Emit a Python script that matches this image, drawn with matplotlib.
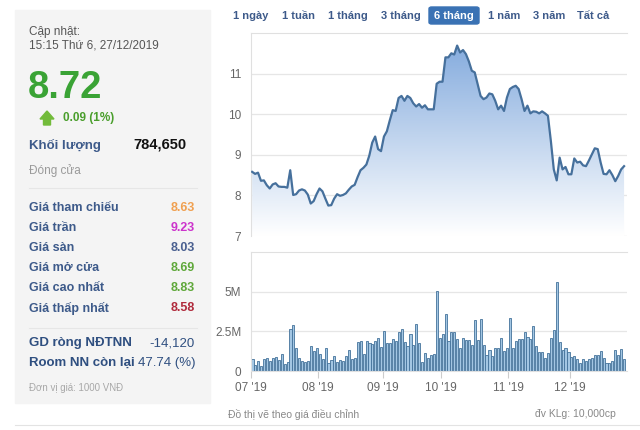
import numpy as np
import matplotlib
matplotlib.use("Agg")
import matplotlib.pyplot as plt
from matplotlib.colors import LinearSegmentedColormap
from matplotlib.patches import Rectangle, FancyBboxPatch, Polygon

plt.rcParams['font.family'] = ['Liberation Sans', 'DejaVu Sans']

W, H = 640, 430

# daily close (1000 VND), trading days from 07/2019 to 27/12/2019
price = [8.58, 8.53, 8.56, 8.36, 8.37, 8.25, 8.17, 8.27, 8.30, 8.22, 8.21, 8.21, 8.19,
         8.62, 8.01, 8.03, 8.12, 8.15, 8.12, 8.02, 7.80, 7.86, 8.03, 8.17, 8.10, 7.92,
         7.75, 7.76, 7.92, 8.03, 7.99, 8.01, 8.05, 8.14, 8.22, 8.26, 8.45, 8.62, 8.68,
         8.76, 8.98, 9.30, 9.45, 9.14, 9.09, 9.45, 9.58, 9.85, 10.10, 10.08, 10.40, 10.45,
         10.33, 10.45, 10.40, 10.27, 10.19, 10.25, 10.16, 10.22, 10.12, 10.12, 10.12, 10.75, 10.80,
         10.80, 11.40, 11.40, 11.50, 11.47, 11.69, 11.52, 11.58, 11.48, 11.30, 11.07, 11.03, 10.74,
         10.45, 10.37, 10.41, 10.51, 10.49, 10.33, 10.12, 10.21, 10.08, 10.41, 10.62, 10.67, 10.70,
         10.62, 10.37, 10.08, 10.21, 10.02, 10.07, 10.06, 10.02, 10.07, 10.02, 9.96, 9.34, 8.64,
         8.37, 8.93, 8.64, 8.70, 8.52, 8.52, 8.91, 8.81, 8.83, 8.74, 8.72, 8.86, 9.01,
         9.16, 9.14, 8.81, 8.53, 8.52, 8.62, 8.50, 8.35, 8.48, 8.64, 8.72]

# volume, millions
volume = [0.73, 0.38, 0.63, 0.31, 0.75, 0.81, 0.65, 0.79, 0.90, 0.69,
          1.06, 0.44, 0.58, 2.67, 2.88, 1.44, 0.85, 0.60, 0.58, 0.63,
          1.56, 1.27, 1.48, 1.06, 0.73, 1.42, 0.48, 0.69, 0.96, 0.58,
          0.69, 0.63, 0.94, 1.35, 0.73, 0.85, 1.83, 1.88, 1.06, 1.88,
          1.77, 1.73, 1.88, 2.10, 1.52, 2.52, 1.77, 1.77, 2.04, 1.88,
          2.46, 2.63, 1.83, 1.56, 2.35, 1.63, 2.98, 1.77, 0.58, 1.15,
          0.85, 1.00, 1.04, 5.02,
          2.10, 2.35, 3.60, 1.88, 2.46, 2.46, 2.04, 1.42, 2.10, 1.94,
          1.94, 1.63, 3.19, 1.94, 3.29, 1.63, 1.00, 1.31, 0.96, 1.46,
          1.42, 2.10, 1.27, 1.42, 3.35, 1.42, 1.88, 2.00, 2.00, 2.46,
          2.15, 2.04, 2.81, 1.56, 1.21, 1.21, 0.85, 1.15, 2.10, 2.56,
          5.63, 1.81, 1.31, 1.42, 1.21, 0.90, 0.96, 0.73, 0.48, 0.73,
          0.65, 0.73, 0.83, 1.00, 1.00, 1.25, 0.79, 0.48, 0.48, 0.63,
          1.31, 1.00, 1.38, 0.73]

month_start = [0, 23, 45, 65, 88, 109]
month_labels = ["07 '19", "08 '19", "09 '19", "10 '19", "11 '19", "12 '19"]

price_ticks = [7, 8, 9, 10, 11]
vol_ticks = [0, 2.5, 5]
vol_tick_labels = ['0', '2.5M', '5M']

ranges = ['1 ngày', '1 tuần', '1 tháng', '3 tháng', '6 tháng', '1 năm', '3 năm', 'Tất cả']
range_x = [251, 298, 348, 401, 454, 504, 549, 593]
selected = '6 tháng'

info_labels = ['Giá tham chiếu', 'Giá trần', 'Giá sàn', 'Giá mở cửa', 'Giá cao nhất', 'Giá thấp nhất']
info_values = ['8.63', '9.23', '8.03', '8.69', '8.83', '8.58']
info_colors = ['#f0a050', '#cc33cc', '#4a6090', '#5fa83a', '#5fa83a', '#b02a3c']

LABEL = '#3d5a8a'
GRID = '#e6e6e6'


def fx(x):
    return x / W


def fy(y):
    return 1 - y / H


def put(fig, x, y, s, **kw):
    kw.setdefault('va', 'center')
    fig.text(fx(x), fy(y), s, **kw)


def draw_left_panel(fig):
    fig.patches.append(Rectangle((fx(15), fy(403)), 195 / W, 393 / H,
                                 transform=fig.transFigure, color='#f4f4f4', zorder=0))
    put(fig, 29, 32, 'Cập nhật:', color='#555555', fontsize=8.5)
    put(fig, 29, 45, '15:15 Thứ 6, 27/12/2019', color='#555555', fontsize=8.5)
    put(fig, 28, 88, '8.72', color='#3aa335', fontsize=27.5, fontweight='bold')

    # green up arrow
    arrow = [(40, 119), (47, 111), (54, 119), (50.5, 119), (50.5, 125), (43.5, 125), (43.5, 119)]
    fig.patches.append(Polygon([(fx(a), fy(b)) for a, b in arrow], closed=True,
                               transform=fig.transFigure, color='#72bb3a', zorder=2))
    put(fig, 63, 118, '0.09 (1%)', color='#4a9e2c', fontsize=8.5, fontweight='bold')

    put(fig, 29, 145, 'Khối lượng', color=LABEL, fontsize=9.5, fontweight='bold')
    put(fig, 186, 145, '784,650', color='#111111', fontsize=10.5, fontweight='bold', ha='right')
    put(fig, 29, 171, 'Đóng cửa', color='#9a9a9a', fontsize=8.5)

    for y in (188, 328):
        fig.lines.append(plt.Line2D([fx(29), fx(197)], [fy(y), fy(y)],
                                    transform=fig.transFigure, color='#e6e6e6', lw=0.8))

    for k, (lab, val, col) in enumerate(zip(info_labels, info_values, info_colors)):
        y = 208 + 20 * k
        put(fig, 29, y, lab, color=LABEL, fontsize=9, fontweight='bold')
        put(fig, 195, y, val, color=col, fontsize=9, fontweight='bold', ha='right')

    put(fig, 29, 343, 'GD ròng NĐTNN', color='#2f4f80', fontsize=9.5, fontweight='bold')
    put(fig, 195, 343, '-14,120', color='#2f4f80', fontsize=9.5, ha='right')
    put(fig, 29, 363, 'Room NN còn lại', color='#2f4f80', fontsize=9.5, fontweight='bold')
    put(fig, 195, 363, '47.74 (%)', color='#2f4f80', fontsize=9.5, ha='right')
    put(fig, 29, 388, 'Đơn vị giá: 1000 VNĐ', color='#a8a8a8', fontsize=7)


def draw_range_buttons(fig):
    for lab, x in zip(ranges, range_x):
        if lab == selected:
            fig.patches.append(FancyBboxPatch((fx(429), fy(24)), 50 / W, 17 / H,
                                              boxstyle='round,pad=0,rounding_size=0.004',
                                              transform=fig.transFigure, color='#3a72b4'))
            put(fig, x, 16, lab, color='white', fontsize=8, fontweight='bold', ha='center')
        else:
            put(fig, x, 16, lab, color=LABEL, fontsize=8, fontweight='bold', ha='center')


def style_axis(ax):
    for s in ax.spines.values():
        s.set_color('#e0e0e0')
        s.set_linewidth(0.8)
    ax.spines['right'].set_visible(False)
    ax.tick_params(axis='y', length=0, labelsize=8.5, labelcolor='#666666', pad=7)
    ax.yaxis.grid(True, color=GRID, lw=0.9)
    ax.set_axisbelow(True)


def main():
    fig = plt.figure(figsize=(W / 100, H / 100), dpi=100)
    draw_left_panel(fig)
    draw_range_buttons(fig)

    x = np.arange(len(price))
    xlim = (-0.4, 128.0)
    ticks = [m - 0.5 for m in month_start]

    # price pane
    ax = fig.add_axes([fx(251), fy(236), 376 / W, 203 / H])
    style_axis(ax)
    ax.set_xlim(*xlim)
    ax.set_ylim(7, 12)
    ax.set_yticks(price_ticks)
    ax.set_xticks([])
    area = ax.fill_between(x, price, 7, color='none', lw=0)
    cmap = LinearSegmentedColormap.from_list('fillgrad', ['#ffffff', '#7ea7dc'])
    grad = np.linspace(1, 0, 256).reshape(-1, 1)
    im = ax.imshow(grad, extent=[xlim[0], xlim[1], 7, 12], aspect='auto', cmap=cmap,
                   origin='upper', zorder=1)
    im.set_clip_path(area.get_paths()[0], transform=ax.transData)
    ax.plot(x, price, color='#46709c', lw=1.6, zorder=3)
    ax.spines['bottom'].set_visible(False)

    # volume pane
    av = fig.add_axes([fx(251), fy(371), 376 / W, 119 / H])
    style_axis(av)
    av.set_xlim(*xlim)
    av.set_ylim(0, 7.5)
    av.set_yticks(vol_ticks)
    av.set_yticklabels(vol_tick_labels)
    av.bar(x, volume, width=0.72, color='#a3c6e3', edgecolor='#44729a', lw=0.6, zorder=2)
    av.set_xticks(ticks)
    av.set_xticklabels(month_labels)
    av.tick_params(axis='x', length=5, color='#cccccc', labelsize=8.5,
                   labelcolor='#666666', pad=3)

    put(fig, 228, 415, 'Đồ thị vẽ theo giá điều chỉnh', color='#888888', fontsize=7.5)
    put(fig, 616, 414, 'đv KLg: 10,000cp', color='#888888', fontsize=7.5, ha='right')
    fig.lines.append(plt.Line2D([fx(15), fx(640)], [fy(425), fy(425)],
                                transform=fig.transFigure, color='#e3e3e3', lw=0.8))

    fig.savefig('out.png', dpi=100)


if __name__ == "__main__":
    main()
